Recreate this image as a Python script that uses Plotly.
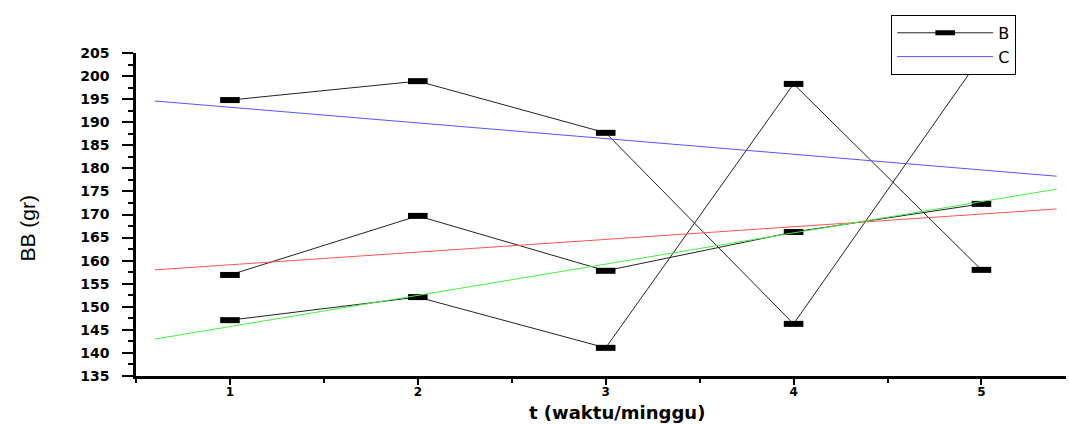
import plotly.graph_objects as go

# data
weeks = [1, 2, 3, 4, 5]
b_series_1 = [194.8, 198.9, 187.7, 146.3, 204.3]
b_series_2 = [156.9, 169.7, 157.8, 166.2, 172.3]
b_series_3 = [147.1, 152.1, 141.1, 198.3, 158.0]

fit_x = [0.6, 5.4]
fit_blue = [194.6, 178.3]
fit_red = [158.0, 171.2]
fit_green = [143.0, 175.5]

y_ticks = list(range(135, 206, 5))
x_ticks = [1, 2, 3, 4, 5]

fig = go.Figure()

marker_style = dict(symbol="line-ew", size=14, color="black",
                    line=dict(width=6, color="black"))

for i, s in enumerate([b_series_1, b_series_2, b_series_3]):
    fig.add_trace(go.Scatter(
        x=weeks, y=s, mode="lines+markers", name="B",
        showlegend=(i == 0), legendrank=1,
        line=dict(color="#222222", width=1),
        marker=marker_style,
    ))

fig.add_trace(go.Scatter(x=fit_x, y=fit_blue, mode="lines", name="C",
                         line=dict(color="#5555ff", width=1), legendrank=2))
fig.add_trace(go.Scatter(x=fit_x, y=fit_red, mode="lines", showlegend=False,
                         line=dict(color="#ff5555", width=1)))
fig.add_trace(go.Scatter(x=fit_x, y=fit_green, mode="lines", showlegend=False,
                         line=dict(color="#44ee44", width=1)))

sans = "Liberation Sans, Arial, sans-serif"
wide = "DejaVu Sans, Verdana, sans-serif"

fig.update_layout(
    width=1069, height=424,
    margin=dict(l=136, r=3, t=53, b=48, autoexpand=False),
    paper_bgcolor="white", plot_bgcolor="white",
    font=dict(family=sans, color="black"),
    legend=dict(
        x=0.812, y=1.118, xanchor="left", yanchor="top",
        bordercolor="black", borderwidth=1, bgcolor="white",
        font=dict(size=16, family=wide),
        tracegroupgap=0, itemwidth=96,
    ),
)

fig.update_xaxes(
    range=[0.5, 5.45], tickvals=x_ticks, ticktext=[str(v) for v in x_ticks],
    showgrid=False, zeroline=False, automargin=False,
    showline=True, linecolor="black", linewidth=2.5,
    ticks="outside", ticklen=6, tickwidth=2, tickcolor="black",
    minor=dict(dtick=0.5, tick0=0.5, ticks="outside", ticklen=4, tickwidth=2, tickcolor="black"),
    tickfont=dict(size=12, family=wide, weight="bold"),
    ticklabelstandoff=-3,
)

fig.update_yaxes(
    range=[135, 205], tickvals=y_ticks, ticktext=[str(v) for v in y_ticks],
    showgrid=False, zeroline=False, automargin=False,
    showline=True, linecolor="black", linewidth=2.5,
    ticks="outside", ticklen=11, tickwidth=2, tickcolor="black",
    minor=dict(dtick=2.5, tick0=135, ticks="outside", ticklen=5, tickwidth=2, tickcolor="black"),
    tickfont=dict(size=14, family=wide, weight="bold"),
    ticklabelstandoff=10,
)

# axis titles placed as annotations at their reference positions
fig.add_annotation(text="t (waktu/minggu)", xref="paper", yref="paper",
                   x=0.5, y=0, xshift=16, yshift=-36, yanchor="middle",
                   showarrow=False, font=dict(size=18, family=wide, weight="bold"))
fig.add_annotation(text="BB (gr)", xref="paper", yref="paper",
                   x=0, y=0.5, xshift=-109, yshift=-14, textangle=-90,
                   xanchor="center", yanchor="middle",
                   showarrow=False, font=dict(size=21, family=sans))

fig.write_html("out.html", config={"displayModeBar": False},
               post_script="document.body.style.margin='0';document.body.style.overflow='hidden';")
